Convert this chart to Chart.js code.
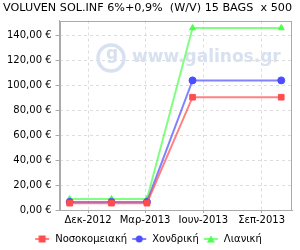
<!DOCTYPE html>
<html lang="el">
<head>
  <meta charset="UTF-8" />
  <title>VOLUVEN price chart</title>
  <script src="https://cdn.jsdelivr.net/npm/chart.js"></script>
  <style>
    html, body { margin: 0; padding: 0; background: #fff; }
    #wrap { width: 300px; height: 250px; }
  </style>
</head>
<body>
  <div id="wrap"><canvas id="priceChart" width="300" height="250"></canvas></div>

  <script>
    const titleText = "VOLUVEN SOL.INF 6%+0,9%  (W/V) 15 BAGS  x 500";
    const dates = ["2012-11-02", "2013-01-07", "2013-03-04", "2013-05-15", "2013-10-02"];
    const hospital = [5.5, 5.5, 5.5, 90.5, 90.5];
    const wholesale = [6.5, 6.5, 6.5, 104, 104];
    const retail = [8.8, 8.8, 8.8, 146, 146];
    const tickDates = ["2012-12-01", "2013-03-01", "2013-06-01", "2013-09-01"];
    const tickLabels = ["Δεκ-2012", "Μαρ-2013", "Ιουν-2013", "Σεπ-2013"];
    const seriesNames = ["Νοσοκομειακή", "Χονδρική", "Λιανική"];

    const FONT = "'DejaVu Sans', sans-serif";
    const origin = Date.UTC(2012, 11, 1);
    function toDay(s) {
      const p = s.split("-").map(Number);
      return (Date.UTC(p[0], p[1] - 1, p[2]) - origin) / 86400000;
    }
    const tickDays = tickDates.map(toDay);

    function points(vals) {
      return vals.map((v, i) => ({ x: toDay(dates[i]), y: v }));
    }

    // little "line + marker" swatches for the legend (2px blank on the left)
    function swatch(color, style) {
      const c = document.createElement("canvas");
      c.width = 17; c.height = 10;
      const g = c.getContext("2d");
      g.strokeStyle = color; g.globalAlpha = 0.7; g.lineWidth = 2;
      g.beginPath(); g.moveTo(2, 5); g.lineTo(16, 5); g.stroke();
      g.globalAlpha = 1; g.fillStyle = color;
      g.beginPath();
      if (style === "rect") g.rect(5.5, 1.5, 7, 7);
      else if (style === "circle") g.arc(9, 5, 3.5, 0, Math.PI * 2);
      else { g.moveTo(9, 1.5); g.lineTo(13, 8.5); g.lineTo(5, 8.5); g.closePath(); }
      g.fill();
      return c;
    }

    const colors = ["#ff4d4d", "#4d4dff", "#4dff4d"];
    const styles = ["rect", "circle", "triangle"];
    const swatches = colors.map((c, i) => swatch(c, styles[i]));

    const watermark = {
      id: "watermark",
      beforeDatasetsDraw(chart) {
        const ctx = chart.ctx;
        ctx.save();
        ctx.fillStyle = "#d8e1ef";
        ctx.strokeStyle = "#d8e1ef";
        ctx.lineWidth = 3.5;
        ctx.beginPath();
        ctx.arc(111, 58, 13, 0, Math.PI * 2);
        ctx.stroke();
        ctx.font = "bold 17px " + FONT;
        ctx.textBaseline = "middle";
        ctx.textAlign = "center";
        ctx.fillText("g", 112, 55);
        ctx.textAlign = "left";
        ctx.fillText("www.galinos.gr", 132, 58);
        ctx.restore();
      }
    };

    // push the legend row a little lower than Chart.js places it
    const legendShift = {
      id: "legendShift",
      afterLayout(chart) {
        const lg = chart.legend;
        if (!lg) return;
        lg.top += 4; lg.bottom += 4;
        (lg.legendHitBoxes || []).forEach(h => { h.top += 4; });
      }
    };

    function ds(label, vals, i) {
      return {
        label: label,
        data: points(vals),
        borderColor: colors[i] + "b3",
        backgroundColor: colors[i],
        pointBackgroundColor: colors[i],
        pointBorderColor: colors[i],
        pointStyle: styles[i],
        pointRadius: styles[i] === "rect" ? 4 : 3.5,
        pointBorderWidth: 1,
        borderWidth: 2,
        tension: 0
      };
    }

    new Chart(document.getElementById("priceChart"), {
      type: "line",
      data: {
        datasets: [
          ds(seriesNames[0], hospital, 0),
          ds(seriesNames[1], wholesale, 1),
          ds(seriesNames[2], retail, 2)
        ]
      },
      options: {
        responsive: false,
        animation: false,
        layout: { padding: { left: 3, right: 8, top: 0, bottom: 0 } },
        plugins: {
          title: {
            display: true,
            text: titleText,
            align: "start",
            color: "#000",
            font: { family: FONT, size: 11.3, weight: "normal" },
            padding: { top: 1, bottom: 6 }
          },
          legend: {
            position: "bottom",
            labels: {
              color: "#000",
              font: { family: FONT, size: 10 },
              usePointStyle: true,
              pointStyleWidth: 17,
              boxHeight: 10,
              padding: 3,
              generateLabels(chart) {
                return chart.data.datasets.map((d, i) => ({
                  text: d.label,
                  pointStyle: swatches[i],
                  fillStyle: colors[i],
                  strokeStyle: colors[i],
                  lineWidth: 0,
                  datasetIndex: i
                }));
              }
            }
          },
          tooltip: { enabled: false }
        },
        scales: {
          x: {
            type: "linear",
            min: toDay("2012-10-17"),
            max: toDay("2013-10-19"),
            afterBuildTicks(scale) {
              scale.ticks = tickDays.map(v => ({ value: v }));
            },
            ticks: {
              color: "#000",
              font: { family: FONT, size: 10 },
              maxRotation: 0,
              autoSkip: false,
              padding: 1,
              callback(value) {
                const k = tickDays.indexOf(value);
                return k >= 0 ? tickLabels[k] : "";
              }
            },
            grid: { color: "#dddddd", tickLength: 3, tickColor: "#aaaaaa" },
            border: { color: "#aaaaaa", dash: [3, 3] }
          },
          y: {
            min: 0,
            max: 152,
            afterBuildTicks(scale) {
              const t = [];
              for (let v = 0; v <= 140; v += 20) t.push({ value: v });
              scale.ticks = t;
            },
            ticks: {
              color: "#000",
              font: { family: FONT, size: 10 },
              padding: 4,
              callback(value) {
                return value.toFixed(2).replace(".", ",") + " €";
              }
            },
            grid: { color: "#dddddd", tickLength: 4, tickColor: "#aaaaaa" },
            border: { color: "#aaaaaa", dash: [3, 3] }
          }
        }
      },
      plugins: [watermark, legendShift, {
        id: "frame",
        afterDraw(chart) {
          const a = chart.chartArea, ctx = chart.ctx;
          ctx.save();
          ctx.strokeStyle = "#aaaaaa";
          ctx.lineWidth = 1;
          ctx.strokeRect(Math.round(a.left) + 0.5, Math.round(a.top) + 0.5,
            Math.round(a.right - a.left) - 1, Math.round(a.bottom - a.top));
          ctx.restore();
        }
      }]
    });
  </script>
</body>
</html>
